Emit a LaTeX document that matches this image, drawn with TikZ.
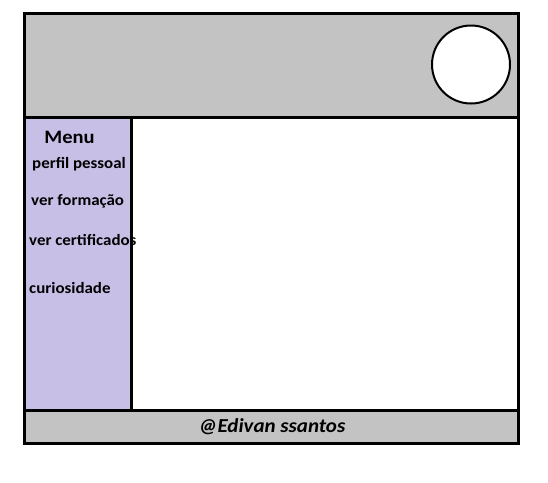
\documentclass[tikz,border=0pt]{standalone}
\usepackage{fontspec}
\setmainfont{Carlito}
\definecolor{hdrgray}{HTML}{C3C3C3}
\definecolor{lav}{HTML}{C8BFE7}
\begin{document}
\begin{tikzpicture}[x=1pt,y=-1pt,
  frame/.style={line width=3pt},
  item/.style={anchor=west,inner sep=0pt,font=\addfontfeature{FakeStretch=1.07}\bfseries\fontsize{15.8}{16}\selectfont}]
\useasboundingbox (0,0) rectangle (548,482);
\fill[white] (0,0) rectangle (548,482);
% fills
\fill[hdrgray] (24,13) rectangle (518,117);
\fill[lav] (24,117) rectangle (131,410);
\fill[hdrgray] (24,410) rectangle (518,443);
% texts
\node[anchor=center,inner sep=0pt,font=\addfontfeature{FakeStretch=1.08}\bfseries\fontsize{19}{20}\selectfont] (menu) at (69.5,137) {Menu};
\node[item] (perfil) at (32,164.5) {perfil pessoal};
\node[item] (form) at (31,201.5) {ver formação};
\node[item] (cert) at (29,239.5) {ver certificados};
\node[item] (curio) at (29,288.5) {curiosidade};
\node[anchor=center,inner sep=0pt,font=\addfontfeature{FakeStretch=1.06}\bfseries\itshape\fontsize{19.8}{20}\selectfont] (foot) at (272,427) {@Edivan ssantos};
% lines
\draw[frame] (24,13) rectangle (518,443);
\draw[frame] (24,117) -- (518,117);
\draw[frame] (131,117) -- (131,410);
\draw[frame] (24,410) -- (520,410);
% avatar
\draw[line width=2pt,fill=white] (471,64.5) circle (39);
\end{tikzpicture}
\end{document}
